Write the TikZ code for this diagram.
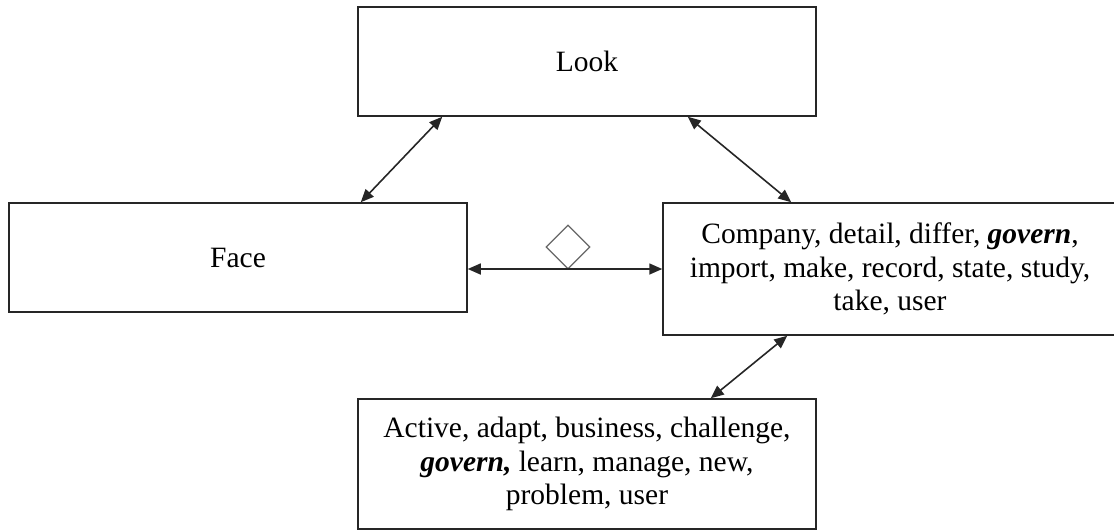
\documentclass[tikz,border=0pt]{standalone}
\usepackage{fontspec}
\setmainfont{Liberation Serif}
\usetikzlibrary{arrows.meta,shapes.geometric}
\begin{document}
\begin{tikzpicture}[x=1pt,y=-1pt,
  box/.style={draw=black!85,line width=1.5pt,inner sep=0pt,align=center,
    font=\fontsize{29.5}{33.5}\selectfont},
  link/.style={line width=1.6pt,draw=black!85,{Triangle[length=13pt,width=11pt]}-{Triangle[length=13pt,width=11pt]}}]
\useasboundingbox (0,0) rectangle (1114,531);
\clip (0,0) rectangle (1114,531);
\node[box,minimum width=458pt,minimum height=109pt] (look) at (587,61.5) {Look};
\node[box,minimum width=458pt,minimum height=109pt] (face) at (238,257.5) {Face};
\node[box,minimum width=454pt,minimum height=132pt] (right) at (890,269)
  {Company, detail, differ, \textbf{\textit{govern}},\\import, make, record, state, study,\\take, user};
\node[box,minimum width=458pt,minimum height=130pt] (bottom) at (587,464)
  {Active, adapt, business, challenge,\\\textbf{\textit{govern,}} learn, manage, new,\\problem, user};
\node[draw=black!60,line width=1.2pt,shape=diamond,minimum width=44pt,minimum height=44pt,inner sep=0pt] (agg) at (568,247) {};
\draw[link] ([xshift=85pt]look.south west) -- ([xshift=-107pt]face.north east);
\draw[link] ([xshift=-129pt]look.south east) -- ([xshift=129pt]right.north west);
\draw[link] (face.east |- right.west) -- (right.west);
\draw[link] ([xshift=125pt]right.south west) -- ([xshift=-106pt]bottom.north east);
\end{tikzpicture}
\end{document}
